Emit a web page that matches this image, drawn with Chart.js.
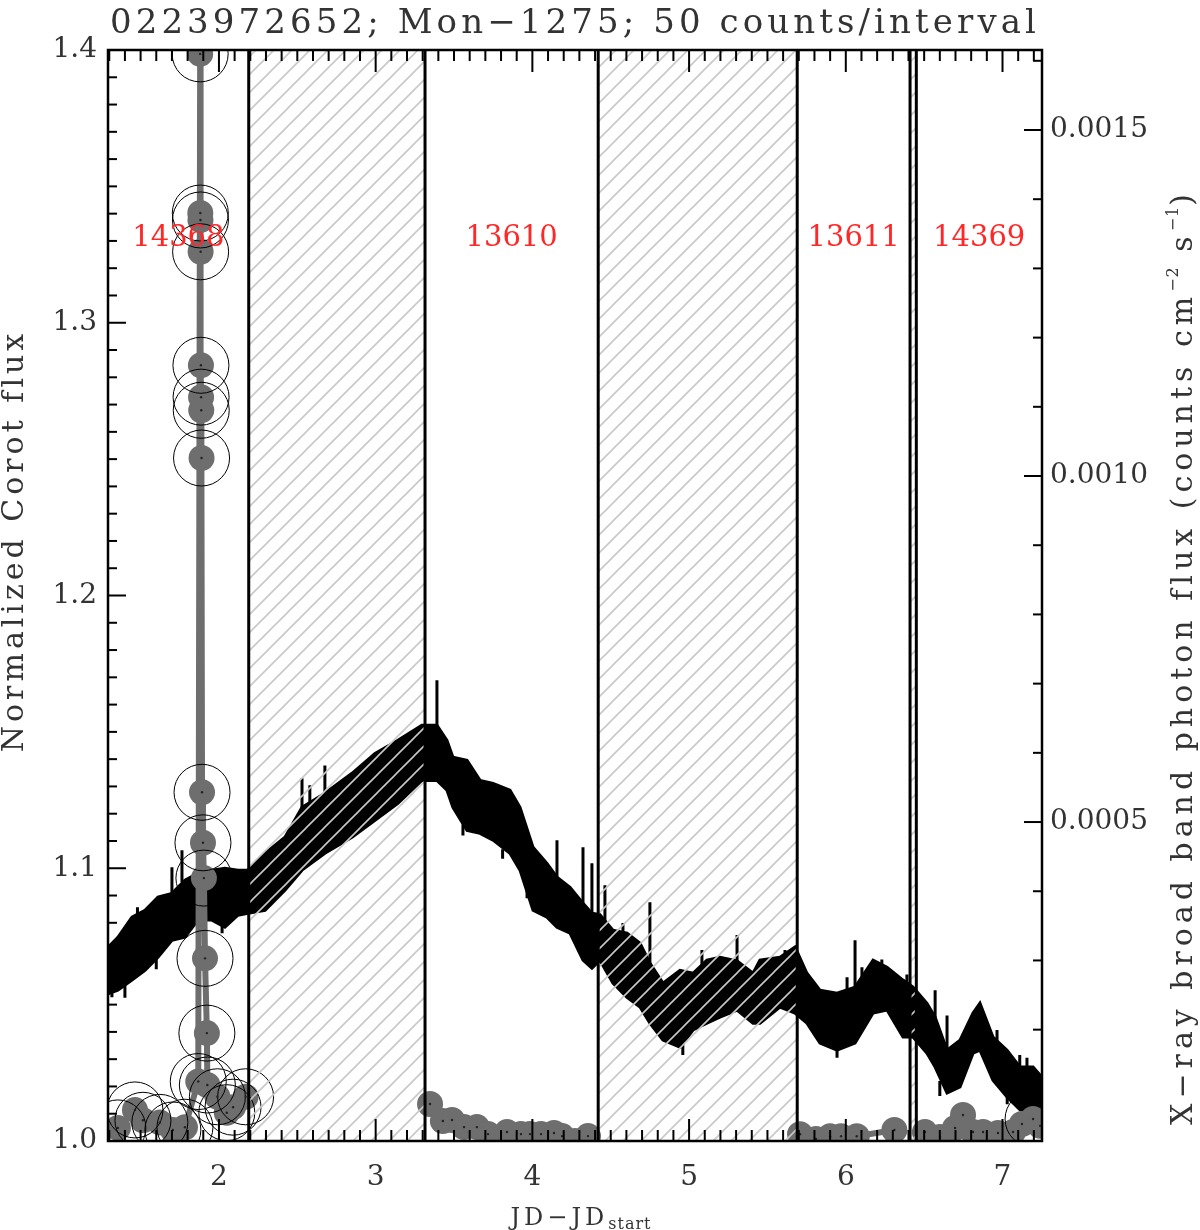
<!DOCTYPE html>
<html>
<head>
<meta charset="utf-8">
<title>0223972652; Mon-1275</title>
<script src="https://cdn.jsdelivr.net/npm/chart.js@4.4.0/dist/chart.umd.min.js"></script>
<style>
  html, body { margin: 0; padding: 0; background: #fff; }
  .chart { width: 1200px; height: 1230px; }
</style>
</head>
<body>
<div class="chart"><canvas id="grafico" width="1200" height="1230"></canvas></div>
<script>
// Corot light curve, drawn as a band between top and bottom envelope
const corotTime = [1.292, 1.355, 1.445, 1.528, 1.611, 1.700, 1.783, 1.866, 1.955, 2.038, 2.121, 2.185,
  2.294, 2.421, 2.530, 2.676, 2.849, 2.996, 3.142, 3.295, 3.391, 3.455, 3.493, 3.583, 3.666, 3.749,
  3.857, 3.921, 4.004, 4.093, 4.157, 4.240, 4.323, 4.380, 4.431, 4.514, 4.604, 4.687, 4.750, 4.833,
  4.942, 5.025, 5.114, 5.197, 5.306, 5.408, 5.452, 5.580, 5.676, 5.752, 5.835, 5.944, 6.059, 6.174,
  6.263, 6.365, 6.429, 6.518, 6.570, 6.646, 6.729, 6.812, 6.856, 6.939, 7.029, 7.112, 7.195, 7.252];
const corotTop = [1.071, 1.0747, 1.0821, 1.0846, 1.0894, 1.0908, 1.0956, 1.0982, 1.0993, 1.100, 1.0993, 1.0993,
  1.1055, 1.1114, 1.1223, 1.1275, 1.1348, 1.1421, 1.1469, 1.1524, 1.1524, 1.1469, 1.1407, 1.1396, 1.1322, 1.1311,
  1.1286, 1.1223, 1.1077, 1.1018, 1.0967, 1.093, 1.0872, 1.0835, 1.083, 1.0773, 1.0762, 1.0725, 1.0652, 1.0579,
  1.0626, 1.0615, 1.0663, 1.0674, 1.066, 1.0615, 1.0663, 1.0674, 1.0711, 1.0615, 1.0553, 1.0542, 1.0564, 1.0663,
  1.0637, 1.059, 1.0564, 1.0505, 1.0454, 1.0333, 1.037, 1.0469, 1.0505, 1.0381, 1.0333, 1.0271, 1.0271, 1.0234];
const corotBottom = [1.054, 1.0553, 1.059, 1.0626, 1.0674, 1.0736, 1.0747, 1.081, 1.081, 1.0784, 1.0828, 1.0835,
  1.0846, 1.0919, 1.0993, 1.1055, 1.1114, 1.1176, 1.1238, 1.1322, 1.1322, 1.1286, 1.1223, 1.1139, 1.1128, 1.1103,
  1.1055, 1.0993, 1.0846, 1.0821, 1.0784, 1.0762, 1.0663, 1.0634, 1.0663, 1.0579, 1.0527, 1.0491, 1.0432, 1.037,
  1.0344, 1.0407, 1.0432, 1.0454, 1.048, 1.0432, 1.0432, 1.0491, 1.0469, 1.0432, 1.0359, 1.0333, 1.0359, 1.0469,
  1.048, 1.0381, 1.0381, 1.0322, 1.0271, 1.0176, 1.0198, 1.0322, 1.0333, 1.0223, 1.0161, 1.0114, 1.0103, 1.0114];

// single noisy points sticking out of the band
const spikeTime = [1.38, 1.48, 1.70, 1.764, 2.53, 2.58, 2.676, 3.391, 4.157, 4.323, 4.38, 4.463, 4.578, 4.75,
  5.082, 5.306, 5.612, 6.008, 6.059, 6.103, 6.23, 6.39, 6.57, 6.646, 6.965, 7.11, 7.156,
  1.317, 1.40, 1.60, 2.02, 3.557, 3.81, 3.966, 4.96, 5.944, 6.60, 7.03];
const spikeFrom = [1.07, 1.082, 1.09, 1.095, 1.12, 1.118, 1.127, 1.15, 1.096, 1.087, 1.083, 1.08, 1.075, 1.065,
  1.062, 1.066, 1.066, 1.054, 1.056, 1.058, 1.062, 1.056, 1.045, 1.033, 1.036, 1.027, 1.026,
  1.056, 1.057, 1.068, 1.08, 1.116, 1.107, 1.093, 1.036, 1.035, 1.022, 1.017];
const spikeTo = [1.0755, 1.0857, 1.1004, 1.1066, 1.133, 1.1304, 1.1377, 1.1689, 1.1103, 1.1077, 1.1018, 1.0938,
  1.0799, 1.0875, 1.07, 1.0755, 1.070, 1.06, 1.0736, 1.0637, 1.0665, 1.061, 1.0553, 1.046, 1.0407, 1.0315, 1.0305,
  1.0527, 1.0525, 1.063, 1.0762, 1.112, 1.1035, 1.089, 1.0315, 1.0305, 1.0165, 1.0135];

// X-ray broad band photon flux
const xrayTime = [1.355, 1.464, 1.515, 1.623, 1.706, 1.783, 1.868, 1.880, 1.881, 1.882, 1.883, 1.885, 1.886,
  1.887, 1.889, 1.892, 1.898, 1.904, 1.911, 1.923, 1.926, 1.99, 2.05, 2.09, 2.17,
  3.347, 3.429, 3.487, 3.564, 3.646, 3.717, 3.838, 3.927, 3.985, 4.055, 4.138, 4.189, 4.272, 4.355,
  5.708, 5.81, 5.90, 5.97, 6.07, 6.31,
  6.505, 6.601, 6.697, 6.748, 6.812, 6.876, 6.971, 7.067, 7.124, 7.195, 7.24];
const xrayFlux = [0.000058, 0.000084, 0.000069, 0.000066, 0.000055, 0.000059, 0.000125, 0.00161, 0.00138,
  0.00137, 0.001324, 0.00116, 0.001114, 0.001095, 0.001026, 0.000543, 0.00047, 0.000419, 0.000303, 0.000195,
  0.00012, 0.000103, 0.00008, 0.000088, 0.000103,
  0.0000925, 0.0000679, 0.0000694, 0.0000592, 0.0000592, 0.0000491, 0.000052, 0.0000491, 0.0000491, 0.0000491,
  0.0000506, 0.0000462, 0.000039, 0.0000462,
  0.000049, 0.000042, 0.000046, 0.000046, 0.000046, 0.000055,
  0.000052, 0.0000447, 0.0000578, 0.0000766, 0.000052, 0.000052, 0.0000506, 0.000052, 0.0000636, 0.0000708, 0.000061];
const xrayRing = [1, 1, 1, 1, 1, 1, 1, 1, 1, 1, 1, 1, 1, 1, 1, 1, 1, 1, 1, 1, 1, 1, 1, 1, 1,
  0, 0, 0, 0, 0, 0, 0, 0, 0, 0, 0, 0, 0, 0,
  0, 0, 0, 0, 0, 0,
  0, 0, 0, 0, 0, 0, 0, 0, 0, 1, 0];

// Chandra observations
const obsNames = ['14368', '13610', '13611', '14369'];
const obsStart = [1.292, 3.315, 5.69, 6.45];
const obsEnd = [2.19, 4.42, 6.41, 7.252];

const xTicks = [2, 3, 4, 5, 6, 7];
const yTicks = [1.0, 1.1, 1.2, 1.3, 1.4];
const y2Ticks = [0.0005, 0.0010, 0.0015];

const FONTE = 'DejaVu Serif';
const CINZA = 'rgb(110, 110, 110)';
const TEXTO = '#333';

function criaHachura(ctx) {
  const c = document.createElement('canvas');
  c.width = 18;
  c.height = 18;
  const g = c.getContext('2d');
  g.strokeStyle = 'rgb(200, 200, 200)';
  g.lineWidth = 1.6;
  g.beginPath();
  g.moveTo(-1, 19); g.lineTo(19, -1);
  g.moveTo(-6, 6); g.lineTo(6, -6);
  g.moveTo(12, 24); g.lineTo(24, 12);
  g.stroke();
  return ctx.createPattern(c, 'repeat');
}

function cruzaLacuna(a, b) {
  for (let i = 0; i < obsEnd.length - 1; i++) {
    if (a <= obsEnd[i] && b >= obsStart[i + 1]) return true;
  }
  return false;
}

function montaLacunas() {
  const pts = [];
  for (let i = 0; i < obsEnd.length - 1; i++) {
    pts.push({ x: obsEnd[i], y: 1.4 }, { x: obsStart[i + 1], y: 1.4 }, { x: obsStart[i + 1], y: null });
  }
  return pts;
}

function montaBordas() {
  const pts = [];
  for (let i = 0; i < obsEnd.length - 1; i++) {
    [obsEnd[i], obsStart[i + 1]].forEach((x) => {
      pts.push({ x: x, y: 1.0 }, { x: x, y: 1.4 }, { x: x, y: null });
    });
  }
  return pts;
}

function tracos(ctx, scale, first, last, step, majorStep, minorLen, majorLen, side) {
  const area = scale.chart.chartArea;
  const n = Math.round((last - first) / step);
  for (let i = 0; i <= n; i++) {
    const v = first + i * step;
    const r = v / majorStep;
    const len = Math.abs(r - Math.round(r)) < 1e-6 ? majorLen : minorLen;
    const p = scale.getPixelForValue(v);
    ctx.beginPath();
    if (side === 'bottom') { ctx.moveTo(p, area.bottom); ctx.lineTo(p, area.bottom - len); }
    else if (side === 'top') { ctx.moveTo(p, area.top); ctx.lineTo(p, area.top + len); }
    else if (side === 'left') { ctx.moveTo(area.left, p); ctx.lineTo(area.left + len, p); }
    else { ctx.moveTo(area.right, p); ctx.lineTo(area.right - len, p); }
    ctx.stroke();
  }
}

function fonte(ctx, p) {
  ctx.font = p.size + 'px "' + FONTE + '"';
  ctx.letterSpacing = (p.ls || 0) + 'px';
}

// text made of pieces (for sub- and superscripts), centred on x,y
function escreve(ctx, partes, x, y, angulo) {
  ctx.save();
  ctx.translate(x, y);
  ctx.rotate(angulo);
  ctx.textAlign = 'left';
  ctx.textBaseline = 'alphabetic';
  let total = 0;
  partes.forEach((p) => { fonte(ctx, p); total += ctx.measureText(p.t).width; });
  let cx = -total / 2;
  partes.forEach((p) => {
    fonte(ctx, p);
    ctx.fillText(p.t, cx, p.dy || 0);
    cx += ctx.measureText(p.t).width;
  });
  ctx.restore();
}

const moldura = {
  id: 'moldura',
  afterDatasetsDraw(chart) {
    const ctx = chart.ctx;
    const area = chart.chartArea;
    const sx = chart.scales.x;
    const sy = chart.scales.y;
    const sy2 = chart.scales.y2;
    ctx.save();
    ctx.font = '29px "' + FONTE + '"';
    ctx.fillStyle = 'rgb(255, 40, 40)';
    ctx.textAlign = 'center';
    ctx.textBaseline = 'middle';
    obsNames.forEach((nome, i) => {
      const xm = (obsStart[i] + obsEnd[i]) / 2;
      ctx.fillText(nome, sx.getPixelForValue(xm), sy.getPixelForValue(1.331));
    });
    ctx.strokeStyle = '#000';
    ctx.lineWidth = 2;
    tracos(ctx, sx, 1.3, 7.2, 0.1, 1, 11, 22, 'bottom');
    tracos(ctx, sx, 1.3, 7.2, 0.1, 1, 11, 22, 'top');
    tracos(ctx, sy, 1.0, 1.4, 0.01, 0.1, 9, 18, 'left');
    tracos(ctx, sy2, 0.0001, 0.0016, 0.0001, 0.0005, 9, 18, 'right');
    ctx.lineWidth = 2.5;
    ctx.strokeRect(area.left, area.top, area.right - area.left, area.bottom - area.top);
    ctx.restore();
  },
  afterDraw(chart) {
    const ctx = chart.ctx;
    ctx.save();
    ctx.fillStyle = TEXTO;
    escreve(ctx, [{ t: '0223972652; Mon\u22121275; 50 counts/interval', size: 34, ls: 4.1 }], 575, 33, 0);
    escreve(ctx, [{ t: 'Normalized Corot flux', size: 30, ls: 4 }], 23, 541, -Math.PI / 2);
    escreve(ctx, [
      { t: 'X\u2212ray broad band photon flux (counts cm', size: 30, ls: 5 },
      { t: '\u22122', size: 16, dy: -14, ls: 1 },
      { t: ' s', size: 30, ls: 5 },
      { t: '\u22121', size: 16, dy: -14, ls: 1 },
      { t: ')', size: 30, ls: 5 },
    ], 1192, 657, -Math.PI / 2);
    escreve(ctx, [
      { t: 'JD\u2212JD', size: 24, ls: 4 },
      { t: 'start', size: 16, dy: 4, ls: 1 },
    ], 581, 1225, 0);
    ctx.restore();
  },
};

function criaGrafico() {
  const canvas = document.getElementById('grafico');
  const ctx = canvas.getContext('2d');

  const xray = xrayTime.map((t, i) => ({ x: t, y: xrayFlux[i] }));
  const spikes = [];
  spikeTime.forEach((t, i) => {
    spikes.push({ x: t, y: spikeFrom[i] }, { x: t, y: spikeTo[i] }, { x: t, y: null });
  });

  const fontTicks = { family: FONTE, size: 28 };

  new Chart(ctx, {
    type: 'scatter',
    data: {
      datasets: [
        {
          label: 'corot top',
          data: corotTime.map((t, i) => ({ x: t, y: corotTop[i] })),
          showLine: true,
          borderColor: '#000',
          borderWidth: 3,
          pointRadius: 0,
          order: 6,
        },
        {
          label: 'corot bottom',
          data: corotTime.map((t, i) => ({ x: t, y: corotBottom[i] })),
          showLine: true,
          borderColor: '#000',
          borderWidth: 3,
          backgroundColor: '#000',
          fill: '-1',
          pointRadius: 0,
          order: 5,
        },
        {
          label: 'spikes',
          data: spikes,
          showLine: true,
          borderColor: '#000',
          borderWidth: 3,
          pointRadius: 0,
          order: 4,
        },
        {
          label: 'xray',
          data: xray,
          yAxisID: 'y2',
          showLine: true,
          borderColor: CINZA,
          borderWidth: 6,
          pointRadius: 13,
          pointBackgroundColor: CINZA,
          pointBorderWidth: 0,
          segment: {
            borderColor: (c) => (cruzaLacuna(c.p0.parsed.x, c.p1.parsed.x) ? 'rgba(0,0,0,0)' : CINZA),
          },
          order: 3,
        },
        {
          label: 'xray centre',
          data: xray,
          yAxisID: 'y2',
          pointRadius: 1.2,
          pointBackgroundColor: '#222',
          pointBorderWidth: 0,
          order: 2,
        },
        {
          label: 'xray ring',
          data: xray,
          yAxisID: 'y2',
          pointRadius: (c) => (xrayRing[c.dataIndex] ? 28 : 0),
          pointBackgroundColor: 'rgba(0,0,0,0)',
          pointBorderColor: '#000',
          pointBorderWidth: 1,
          order: 2,
        },
        {
          label: 'gaps',
          data: montaLacunas(),
          showLine: true,
          borderWidth: 0,
          borderColor: 'rgba(0,0,0,0)',
          backgroundColor: criaHachura(ctx),
          fill: 'start',
          pointRadius: 0,
          order: 1,
        },
        {
          label: 'edges',
          data: montaBordas(),
          showLine: true,
          borderColor: '#000',
          borderWidth: 3,
          pointRadius: 0,
          order: 0,
        },
      ],
    },
    options: {
      responsive: false,
      animation: false,
      devicePixelRatio: 1,
      layout: { padding: { top: 50, left: 0, right: 0, bottom: 0 } },
      plugins: {
        legend: { display: false },
        tooltip: { enabled: false },
        title: { display: false },
      },
      scales: {
        x: {
          type: 'linear',
          min: 1.292,
          max: 7.252,
          grid: { display: false, drawTicks: false },
          border: { display: false },
          afterBuildTicks: (s) => { s.ticks = xTicks.map((v) => ({ value: v })); },
          afterFit: (s) => { s.height = 89; },
          ticks: {
            font: fontTicks,
            color: TEXTO,
            padding: 20,
            maxRotation: 0,
            autoSkip: false,
            callback: (v) => String(v),
          },
        },
        y: {
          type: 'linear',
          position: 'left',
          min: 1.0,
          max: 1.4,
          grid: { display: false, drawTicks: false },
          border: { display: false },
          afterBuildTicks: (s) => { s.ticks = yTicks.map((v) => ({ value: v })); },
          afterFit: (s) => { s.width = 108; },
          ticks: {
            font: fontTicks,
            color: TEXTO,
            padding: 11,
            autoSkip: false,
            callback: (v) => Number(v).toFixed(1),
          },
        },
        y2: {
          type: 'linear',
          position: 'right',
          min: 0.0000391,
          max: 0.0016156,
          grid: { display: false, drawTicks: false },
          border: { display: false },
          afterBuildTicks: (s) => { s.ticks = y2Ticks.map((v) => ({ value: v })); },
          afterFit: (s) => { s.width = 158; },
          ticks: {
            font: fontTicks,
            color: TEXTO,
            padding: 8,
            autoSkip: false,
            callback: (v) => Number(v).toFixed(4),
          },
        },
      },
    },
    plugins: [moldura],
  });
}

criaGrafico();
</script>
</body>
</html>
